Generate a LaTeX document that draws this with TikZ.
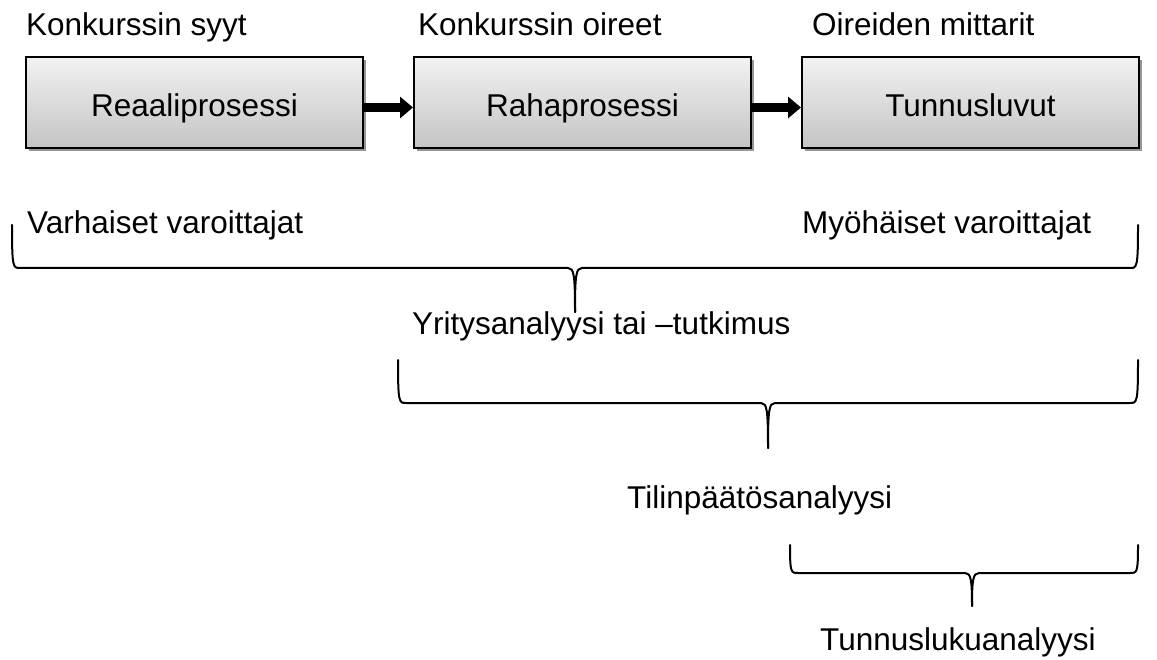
\documentclass[tikz,border=0pt]{standalone}
\usepackage{fontspec}
\setmainfont{Liberation Sans}
\usepackage{xcolor}
\usepackage{tikz}
\usetikzlibrary{
	arrows.meta,
	positioning,
	shadows
}
\definecolor{BoxTop}{RGB}{242,242,242}
\definecolor{BoxBottom}{RGB}{196,196,196}
\definecolor{ShadowGray}{RGB}{150,150,150}

\begin{document}
\begin{tikzpicture}[x=1pt, y=-1pt,
		every node/.style={font=\fontsize{31.5}{38}\selectfont, inner sep=0pt},
		prosessi/.style={draw, line width=2pt, minimum width=337pt, minimum height=91pt,
			text height=28pt, text depth=0pt,
			top color=BoxTop, bottom color=BoxBottom,
			drop shadow={shadow xshift=3pt, shadow yshift=-3pt, fill=ShadowGray, opacity=1}},
		nuoli/.style={line width=9pt, -{Triangle[length=13pt, width=21pt]}},
		kaari/.style={line width=2pt, line cap=round}
	]
		\useasboundingbox (0,0) rectangle (1157,660);
		
		% prosessit
		\node[prosessi] (reaali) at (194.5,102.5) {Reaaliprosessi};
		\node[prosessi, right=49pt of reaali] (raha) {Rahaprosessi};
		\node[prosessi, right=49pt of raha] (tunnus) {Tunnusluvut};
		
		\draw[nuoli] ([yshift=-5pt]reaali.east) -- ([yshift=-5pt]raha.west);
		\draw[nuoli] ([yshift=-5pt]raha.east) -- ([yshift=-5pt]tunnus.west);
		
		% otsikot
		\node[anchor=base west] (syyt) at (26,36) {Konkurssin syyt};
		\node[anchor=base west] (oireet) at (418,36) {Konkurssin oireet};
		\node[anchor=base west] (mittarit) at (812,36) {Oireiden mittarit};
		
		% varoittajat
		\node[anchor=base west] (varhaiset) at (27,234) {Varhaiset varoittajat};
		\node[anchor=base west] (myohaiset) at (802,234) {Myöhäiset varoittajat};
		
		% aaltosulut
		\draw[kaari] (12,225) .. controls (12,268) and (13,268) .. (20,268) -- (568,268)
			.. controls (574,268) and (575,275) .. (575,312);
		\draw[kaari] (1138,225) .. controls (1138,268) and (1137,268) .. (1130,268) -- (582,268)
			.. controls (576,268) and (575,275) .. (575,312);
		\node[anchor=base west] (yritys) at (412,335) {Yritysanalyysi tai –tutkimus};
		
		\draw[kaari] (398,360) .. controls (398,403) and (399,403) .. (406,403) -- (761,403)
			.. controls (767,403) and (768,410) .. (768,448);
		\draw[kaari] (1138,360) .. controls (1138,403) and (1137,403) .. (1130,403) -- (775,403)
			.. controls (769,403) and (768,410) .. (768,448);
		\node[anchor=base west] (tilinpaatos) at (627,508) {Tilinpäätösanalyysi};
		
		\draw[kaari] (790,545) .. controls (790,573) and (791,573) .. (798,573) -- (965,573)
			.. controls (971,573) and (972,580) .. (972,606);
		\draw[kaari] (1138,545) .. controls (1138,573) and (1137,573) .. (1130,573) -- (979,573)
			.. controls (973,573) and (972,580) .. (972,606);
		\node[anchor=base west] (tunnusluku) at (820,650) {Tunnuslukuanalyysi};
		
	\end{tikzpicture}
\end{document}
